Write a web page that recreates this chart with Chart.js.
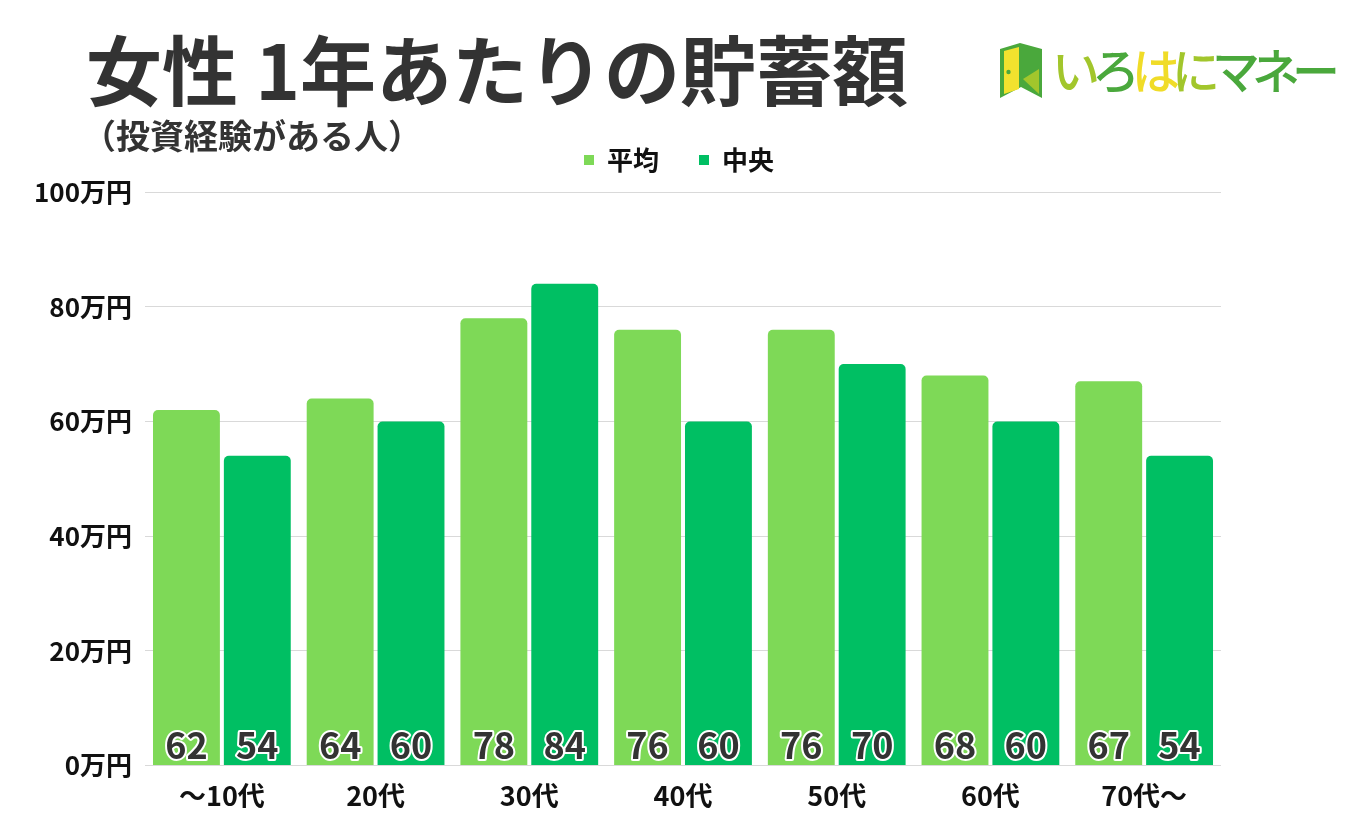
<!DOCTYPE html>
<html lang="ja">
<head>
<meta charset="utf-8">
<script src="https://cdn.jsdelivr.net/npm/chart.js@4/dist/chart.umd.min.js"></script>
<style>
  html, body { margin: 0; padding: 0; background: #ffffff; }
  body { width: 1358px; height: 838px; position: relative; overflow: hidden;
         font-family: "Noto Sans CJK JP", "Noto Sans", sans-serif; }
  #chart { position: absolute; left: 0; top: 0; }
  .title { position: absolute; left: 86px; top: 29px; font-size: 76px; font-weight: 700;
           color: #333333; line-height: 1; white-space: nowrap; }
  .subtitle { position: absolute; left: 82px; top: 118px; font-size: 34px; font-weight: 700;
              color: #333333; line-height: 1; white-space: nowrap; }
  .logo { position: absolute; left: 998px; top: 40px; height: 60px; white-space: nowrap; }
  .logo svg { position: absolute; left: 0; top: 1px; }
  .logo .txt { position: absolute; left: 54px; top: -2px; font-size: 48px; font-weight: 500;
               line-height: 60px; letter-spacing: -8px; }
</style>
</head>
<body>
<canvas id="chart" width="1358" height="838"></canvas>
<div class="title">女性 1年あたりの貯蓄額</div>
<div class="subtitle">（投資経験がある人）</div>
<div class="logo">
  <svg width="46" height="58" viewBox="0 0 46 58">
    <polygon points="2,8 22,2 44,8 44,57 23,46 2,57" fill="#4aa83c"/>
    <polygon points="6,10 21,6 21,48 6,53" fill="#f2e22e"/>
    <circle cx="10.5" cy="31" r="2.2" fill="#4aa83c"/>
    <polygon points="25,38 41,28 41,53" fill="#a2c62c"/>
  </svg>
  <div class="txt"><span style="color:#a2c62c">い</span><span style="color:#4aa83c">ろ</span><span style="color:#f0dc28">は</span><span style="color:#a2c62c">に</span><span style="color:#4aa83c">マネー</span></div>
</div>
<script>
const categories = ["～10代", "20代", "30代", "40代", "50代", "60代", "70代～"];
const seriesNames = ["平均", "中央"];
const averageValues = [62, 64, 78, 76, 76, 68, 67];
const medianValues = [54, 60, 84, 60, 70, 60, 54];
const yTickSuffix = "万円";

const FONT = '"Noto Sans CJK JP", "Noto Sans", sans-serif';

const barLabelPlugin = {
  id: 'barLabels',
  afterDatasetsDraw(chart) {
    const ctx = chart.ctx;
    const yScale = chart.scales.y;
    const base = yScale.getPixelForValue(0);
    ctx.save();
    ctx.font = '700 36px ' + FONT;
    ctx.textAlign = 'center';
    ctx.textBaseline = 'middle';
    ctx.lineJoin = 'round';
    chart.data.datasets.forEach((ds, di) => {
      const meta = chart.getDatasetMeta(di);
      meta.data.forEach((bar, i) => {
        const txt = String(ds.data[i]);
        const y = base - 20;
        ctx.lineWidth = 4;
        ctx.strokeStyle = '#ffffff';
        ctx.strokeText(txt, bar.x, y);
        ctx.fillStyle = '#333333';
        ctx.fillText(txt, bar.x, y);
      });
    });
    ctx.restore();
  }
};

new Chart(document.getElementById('chart'), {
  type: 'bar',
  data: {
    labels: categories,
    datasets: [
      { label: seriesNames[0], data: averageValues, backgroundColor: '#7ed957',
        borderRadius: { topLeft: 5, topRight: 5 }, borderSkipped: 'bottom',
        categoryPercentage: 0.922, barPercentage: 0.944 },
      { label: seriesNames[1], data: medianValues, backgroundColor: '#00bf63',
        borderRadius: { topLeft: 5, topRight: 5 }, borderSkipped: 'bottom',
        categoryPercentage: 0.922, barPercentage: 0.944 }
    ]
  },
  options: {
    responsive: false,
    animation: false,
    layout: { padding: { left: 21, right: 21, top: 107, bottom: 12 } },
    plugins: {
      legend: {
        display: true,
        position: 'top',
        labels: {
          boxWidth: 10, boxHeight: 10, padding: 40,
          color: '#111111',
          font: { family: FONT, size: 26, weight: '700' }
        }
      },
      tooltip: { enabled: false }
    },
    scales: {
      x: {
        grid: { display: false, drawTicks: false },
        border: { display: false },
        ticks: { color: '#111111', padding: 14,
                 font: { family: FONT, size: 27, weight: '700' } }
      },
      xTop: {
        type: 'category', position: 'top', display: true,
        grid: { display: false, drawTicks: false },
        border: { display: false },
        ticks: { display: false },
        afterFit: (s) => { s.height = 9; }
      },
      y: {
        min: 0, max: 100,
        grid: { color: '#d9d9d9', lineWidth: 1, drawTicks: false },
        border: { display: false },
        ticks: { stepSize: 20, color: '#111111', padding: 13,
                 font: { family: FONT, size: 26, weight: '700' },
                 callback: (v) => v + yTickSuffix }
      },
      yRight: {
        type: 'linear', position: 'right', display: true,
        grid: { display: false, drawTicks: false },
        border: { display: false },
        ticks: { display: false },
        afterFit: (s) => { s.width = 116; }
      }
    }
  },
  plugins: [barLabelPlugin]
});
</script>
</body>
</html>
